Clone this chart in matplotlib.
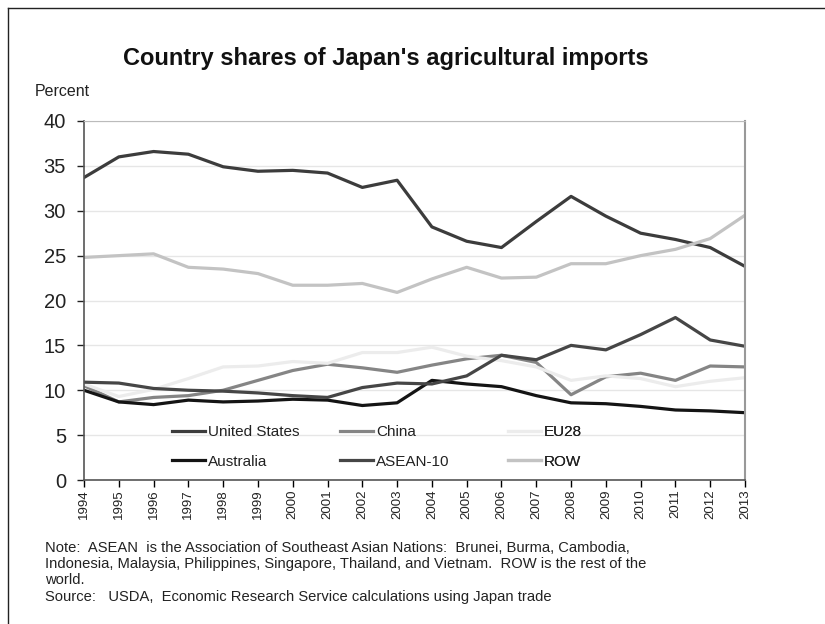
import matplotlib
matplotlib.use("Agg")
import matplotlib.pyplot as plt
from matplotlib.lines import Line2D

plt.rcParams['font.family'] = ['Liberation Sans', 'DejaVu Sans']

years = list(range(1994, 2014))
united_states = [33.7, 36.0, 36.6, 36.3, 34.9, 34.4, 34.5, 34.2, 32.6, 33.4,
                 28.2, 26.6, 25.9, 28.8, 31.6, 29.4, 27.5, 26.8, 25.9, 23.8]
china = [10.5, 8.7, 9.2, 9.4, 10.0, 11.1, 12.2, 12.9, 12.5, 12.0,
         12.8, 13.5, 13.9, 13.1, 9.5, 11.5, 11.9, 11.1, 12.7, 12.6]
eu28 = [10.7, 9.3, 10.1, 11.3, 12.6, 12.7, 13.2, 13.0, 14.2, 14.2,
        14.8, 13.8, 13.3, 12.6, 11.1, 11.6, 11.3, 10.4, 11.0, 11.4]
australia = [10.0, 8.7, 8.4, 8.9, 8.7, 8.8, 9.0, 8.9, 8.3, 8.6,
             11.1, 10.7, 10.4, 9.4, 8.6, 8.5, 8.2, 7.8, 7.7, 7.5]
asean10 = [10.9, 10.8, 10.2, 10.0, 9.9, 9.7, 9.4, 9.2, 10.3, 10.8,
           10.7, 11.6, 13.9, 13.4, 15.0, 14.5, 16.2, 18.1, 15.6, 14.9]
row = [24.8, 25.0, 25.2, 23.7, 23.5, 23.0, 21.7, 21.7, 21.9, 20.9,
       22.4, 23.7, 22.5, 22.6, 24.1, 24.1, 25.0, 25.7, 26.9, 29.5]

series = [
    ("United States", united_states, "#3c3c3c"),
    ("China", china, "#858585"),
    ("EU28", eu28, "#ececec"),
    ("Australia", australia, "#141414"),
    ("ASEAN-10", asean10, "#464646"),
    ("ROW", row, "#c3c3c3"),
]

fig = plt.figure(figsize=(8.25, 6.24), dpi=100)
ax = fig.add_axes([84 / 825, 1 - 480 / 624, (745 - 84) / 825, (480 - 121) / 624])

handles = []
for name, vals, col in series:
    h, = ax.plot(years, vals, color=col, lw=2.3, label=name, solid_joinstyle='round')
    handles.append(h)

ax.set_xlim(1994, 2013)
ax.set_ylim(0, 40)
ax.set_yticks(range(0, 41, 5))
ax.set_xticks(years)
ax.set_xticklabels([str(y) for y in years], rotation=90, fontsize=9.5, color="#222222")
ax.tick_params(axis='y', labelsize=14.5, colors="#222222", length=5, width=1, direction='out', pad=8)
ax.tick_params(axis='x', length=5, width=1, direction='out', pad=2)
ax.yaxis.grid(True, color="#e6e6e6", lw=1)
ax.set_axisbelow(True)
for s in ("left", "bottom"):
    ax.spines[s].set_color("#555555")
    ax.spines[s].set_linewidth(1.2)
ax.spines["top"].set_color("#bbbbbb")
ax.spines["right"].set_color("#999999")
ax.spines["right"].set_linewidth(1.5)

# legend laid out as three columns of two entries, each column placed on its own
col_x = [172, 340, 508]
for i, x0 in enumerate(col_x):
    pair = [handles[i], handles[i + 3]]
    leg = ax.legend(pair, [h.get_label() for h in pair], loc='upper left',
                    bbox_to_anchor=((x0 - 84) / 661, (480 - 425) / 359),
                    frameon=False, fontsize=11, handlelength=2.15, handletextpad=0.2,
                    labelspacing=1.02, borderpad=0, borderaxespad=0)
    for t in leg.get_texts():
        t.set_color("#222222")
    ax.add_artist(leg)

fig.text(386 / 825, 1 - 58 / 624, "Country shares of Japan's agricultural imports",
         ha='center', va='center', fontsize=17, fontweight='bold', color="#111111")
fig.text(35 / 825, 1 - 92 / 624, "Percent", ha='left', va='center', fontsize=11.5, color="#222222")

notes = ("Note:  ASEAN  is the Association of Southeast Asian Nations:  Brunei, Burma, Cambodia,\n"
         "Indonesia, Malaysia, Philippines, Singapore, Thailand, and Vietnam.  ROW is the rest of the\n"
         "world.\n"
         "Source:   USDA,  Economic Research Service calculations using Japan trade")
fig.text(45 / 825, 1 - 541 / 624, notes, ha='left', va='top', fontsize=10.6,
         color="#222222", linespacing=1.2)

# outer frame
fig.add_artist(Line2D([8 / 825, 8 / 825], [0, 1 - 8 / 624], color="#222222", lw=1))
fig.add_artist(Line2D([8 / 825, 1], [1 - 8 / 624, 1 - 8 / 624], color="#222222", lw=1))

fig.savefig("out.png", dpi=100)
